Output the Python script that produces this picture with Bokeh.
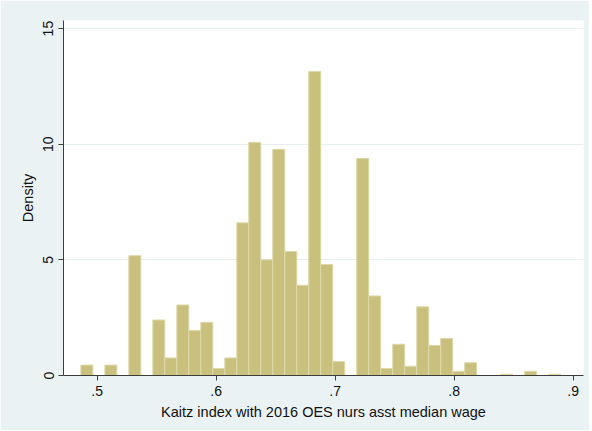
from bokeh.plotting import figure
from bokeh.models import FixedTicker, Range1d
from bokeh.embed import file_html
from bokeh.resources import INLINE

# Histogram data (density), 40 bins
bin_start = 0.4863
bin_width = 0.01008
densities = [0.45, 0.0, 0.45, 0.0, 5.18, 0.0, 2.4, 0.76, 3.05, 1.95,
             2.3, 0.3, 0.76, 6.6, 10.08, 5.0, 9.78, 5.36, 3.9, 13.15,
             4.8, 0.6, 0.0, 9.38, 3.44, 0.3, 1.35, 0.4, 2.97, 1.3,
             1.6, 0.18, 0.55, 0.0, 0.0, 0.05, 0.0, 0.18, 0.0, 0.05]
x_ticks = [0.5, 0.6, 0.7, 0.8, 0.9]
x_tick_labels = [".5", ".6", ".7", ".8", ".9"]
y_ticks = [0, 5, 10, 15]

lefts = [bin_start + i * bin_width for i in range(len(densities))]
rights = [l + bin_width for l in lefts]

BG = "#EAF2F3"
FONT = "Liberation Sans"

p = figure(width=589, height=430, output_backend="svg", toolbar_location=None,
           x_range=Range1d(0.4717, 0.9087), y_range=Range1d(0, 15.35),
           min_border_left=63, min_border_right=6, min_border_top=20,
           min_border_bottom=55)
p.background_fill_color = "white"
p.border_fill_color = BG
p.outline_line_color = None

p.quad(left=lefts, right=rights, bottom=0, top=densities,
       fill_color="#C8C07C", line_color="#DDD8A8", line_width=1)

# grid
p.xgrid.visible = False
p.ygrid.ticker = FixedTicker(ticks=[5, 10, 15])
p.ygrid.grid_line_color = "#E6EEF0"
p.ygrid.grid_line_width = 1

# x axis
p.xaxis.ticker = FixedTicker(ticks=x_ticks)
p.xaxis.major_label_overrides = {t: l for t, l in zip(x_ticks, x_tick_labels)}
p.xaxis.axis_label = "Kaitz index with 2016 OES nurs asst median wage"
# y axis
p.yaxis.ticker = FixedTicker(ticks=y_ticks)
p.yaxis.axis_label = "Density"
p.yaxis.major_label_orientation = "vertical"

for ax in (p.xaxis[0], p.yaxis[0]):
    ax.axis_line_color = "#3C3C3C"
    ax.axis_line_width = 1
    ax.major_tick_line_color = "#3C3C3C"
    ax.major_tick_out = 5
    ax.major_tick_in = 0
    ax.minor_tick_line_color = None
    ax.major_label_text_font = FONT
    ax.major_label_text_font_size = "14px"
    ax.major_label_text_color = "#111111"
    ax.axis_label_text_font = FONT
    ax.axis_label_text_font_size = "14.5px"
    ax.axis_label_text_font_style = "normal"
    ax.axis_label_text_color = "#111111"
    ax.major_label_standoff = 5
    ax.axis_label_standoff = 5

with open("out.html", "w") as f:
    f.write(file_html(p, INLINE))
